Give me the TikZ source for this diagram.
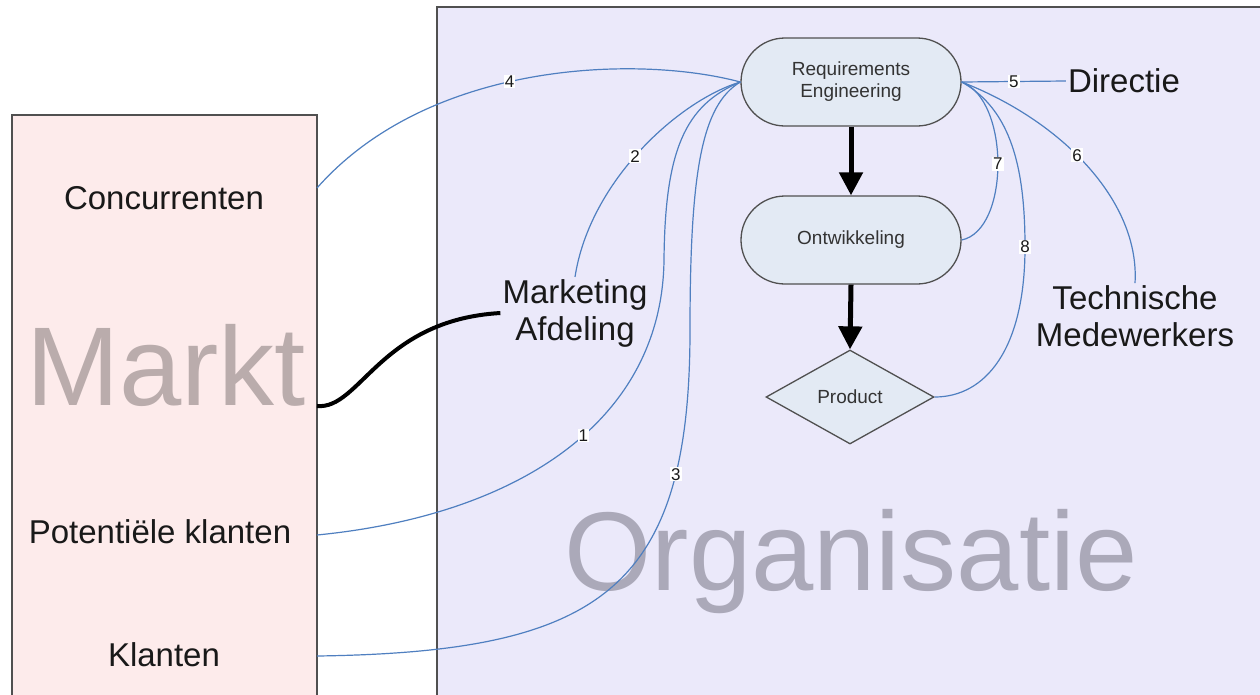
\documentclass[tikz,border=0pt]{standalone}
\usepackage{fontspec}
\setmainfont{Liberation Sans}
\usetikzlibrary{shapes.geometric,arrows.meta}
\definecolor{marktfill}{HTML}{FDEBEB}
\definecolor{orgfill}{HTML}{EBE9FA}
\definecolor{nodefill}{HTML}{E3EAF4}
\definecolor{linkblue}{HTML}{4F7FC0}
\definecolor{edgegray}{HTML}{505050}
\definecolor{markttext}{HTML}{BAACAC}
\definecolor{orgtext}{HTML}{ABA9B9}
\begin{document}
\begin{tikzpicture}[x=1pt,y=-1pt,
  area/.style={draw=edgegray,line width=1.5pt},
  proc/.style={draw=edgegray,line width=1.3pt,fill=nodefill,rectangle,rounded corners=44pt,
    minimum width=220pt,minimum height=88pt,inner sep=0pt,font=\fontsize{19}{22}\selectfont,
    text=black!80,align=center},
  big/.style={font=\fontsize{33}{37}\selectfont,align=center,inner sep=2pt,text=black!90},
  water/.style={anchor=base,inner sep=0pt,font=\fontsize{112}{112}\selectfont},
  link/.style={draw=linkblue,line width=1.2pt},
  lbl/.style={fill=white,inner sep=1pt,font=\fontsize{17}{17}\selectfont,text=black!90},
  flow/.style={line width=5pt,-{Triangle[width=23pt,length=23pt]}}
]
\clip (0,0) rectangle (1260,694);
\fill[white] (0,0) rectangle (1260,694);
% areas
\draw[area,fill=marktfill] (12,115) rectangle (317,710);
\draw[area,fill=orgfill] (437,7) rectangle (1275,710);
\node[water,text=markttext] (marktlbl) at (166,405) {Markt};
\node[water,text=orgtext] (orglbl) at (851,590) {Organisatie};
% edge points on the Markt box
\coordinate (cE) at (317,188);
\coordinate (pE) at (317,535);
\coordinate (kE) at (317,656);
\coordinate (mE) at (317,406);
% labels
\node[big] (conc) at (164,198) {Concurrenten};
\node[big] (pot) at (160,532) {Potentiële klanten};
\node[big] (klant) at (164,655) {Klanten};
\node[big] (mkt) at (575,313) {Marketing\\Afdeling};
\node[big] (tech) at (1135,316) {Technische\\Medewerkers};
\node[big] (dir) at (1124,81) {Directie};
% process nodes
\node[proc] (re) at (851,82) {Requirements\\Engineering};
\node[proc] (ont) at (851,240) {Ontwikkeling};
\node[diamond,draw=edgegray,line width=1.3pt,fill=nodefill,minimum width=168pt,minimum height=94pt,
  inner sep=0pt,font=\fontsize{19}{22}\selectfont,text=black!80] (prod) at (850,397) {Product};
% flow arrows
\draw[flow] (re.south) -- (ont.north);
\draw[flow] (ont.south) -- (prod.north);
% left connectors
\draw[link] (re.west) .. controls (640,55) and (430,60) .. (cE) node[lbl,pos=.55]{4};
\draw[link] (re.west) .. controls (680,100) and (590,180) .. (mkt.north) node[lbl,pos=.53]{2};
\draw[link] (re.west) .. controls (685,105) and (665,150) .. (664,260)
  .. controls (662,420) and (520,515) .. (pE) node[lbl,pos=.45]{1};
\draw[link] (re.west) .. controls (702,105) and (690,170) .. (690,330)
  .. controls (690,590) and (600,652) .. (kE) node[lbl,pos=.22]{3};
% right connectors
\draw[link] (re.east) -- (dir.west) node[lbl,pos=.5]{5};
\draw[link] (re.east) .. controls (1010,100) and (1010,230) .. (ont.east) node[lbl,pos=.5]{7};
\draw[link] (re.east) .. controls (1012,110) and (1025,170) .. (1025,247) node[lbl,pos=1]{8}
  .. controls (1025,350) and (985,397) .. (prod.east);
\draw[link] (re.east) .. controls (1060,120) and (1140,200) .. (tech.north) node[lbl,pos=.45]{6};
% Markt - Marketing
\draw[line width=4pt] (mE) .. controls (360,410) and (380,320) .. (mkt.west);
\end{tikzpicture}
\end{document}
